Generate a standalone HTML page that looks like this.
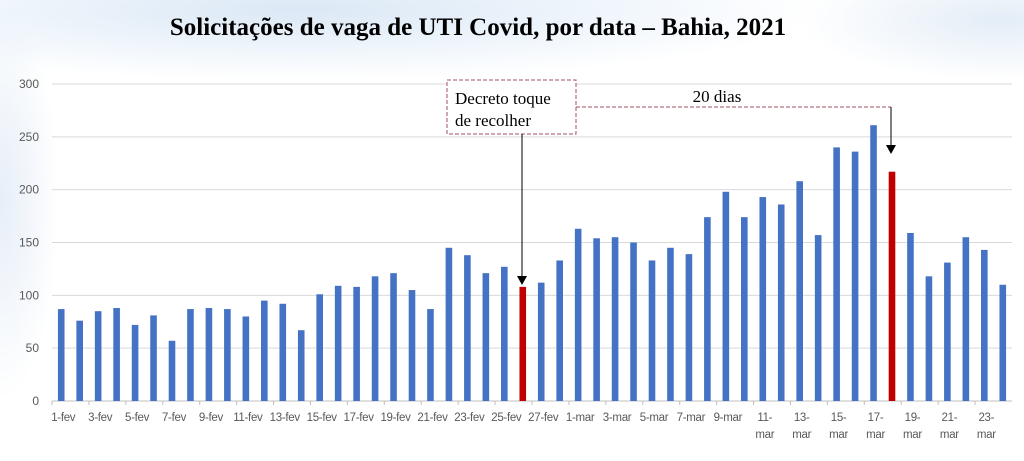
<!DOCTYPE html>
<html><head><meta charset="utf-8"><style>
body{margin:0;width:1024px;height:461px;overflow:hidden;background:#fff;font-family:"Liberation Sans",sans-serif}
#bg{position:absolute;left:0;top:0;width:1024px;height:461px;background:
radial-gradient(ellipse 520px 70px at 300px 10px,#dbe8f5 0%,rgba(230,240,250,0.6) 60%,rgba(255,255,255,0) 100%),
radial-gradient(ellipse 200px 60px at 1000px 20px,#e3edf7 0%,rgba(255,255,255,0) 100%),
radial-gradient(ellipse 60px 200px at 0px 200px,#e6eef8 0%,rgba(255,255,255,0) 100%);}
</style></head><body>
<div id="bg"></div>
<svg id="chart" width="1024" height="461" style="position:absolute;left:0;top:0">
<text x="478" y="35" text-anchor="middle" font-family="Liberation Serif, serif" font-weight="bold" font-size="25" fill="#000">Solicitações de vaga de UTI Covid, por data – Bahia, 2021</text>
<g id="grid"></g><g id="bars"></g><g id="xlabels"></g>
<g>
<rect x="447" y="80" width="129" height="54" fill="#fff" stroke="#a05060" stroke-dasharray="4,2" stroke-width="1"/>
<text x="455" y="104" font-family="Liberation Serif, serif" font-size="17" fill="#000">Decreto toque</text>
<text x="455" y="126" font-family="Liberation Serif, serif" font-size="17" fill="#000">de recolher</text>
<line x1="522" y1="134" x2="522" y2="277" stroke="#000" stroke-width="1"/>
<polygon points="517,276 527,276 522,285" fill="#000"/>
</g>
<g>
<line x1="576" y1="107" x2="891" y2="107" stroke="#a05060" stroke-dasharray="4,2" stroke-width="1"/>
<line x1="891" y1="107" x2="891" y2="146" stroke="#000" stroke-width="1"/>
<polygon points="886,145 896,145 891,154" fill="#000"/>
<text x="717" y="102" text-anchor="middle" font-family="Liberation Serif, serif" font-size="17" fill="#000">20 dias</text>
</g>
</svg>
<script>
const categories=["1-fev","2-fev","3-fev","4-fev","5-fev","6-fev","7-fev","8-fev","9-fev","10-fev","11-fev","12-fev","13-fev","14-fev","15-fev","16-fev","17-fev","18-fev","19-fev","20-fev","21-fev","22-fev","23-fev","24-fev","25-fev","26-fev","27-fev","28-fev","1-mar","2-mar","3-mar","4-mar","5-mar","6-mar","7-mar","8-mar","9-mar","10-mar","11-mar","12-mar","13-mar","14-mar","15-mar","16-mar","17-mar","18-mar","19-mar","20-mar","21-mar","22-mar","23-mar","24-mar"];
const values=[87,76,85,88,72,81,57,87,88,87,80,95,92,67,101,109,108,118,121,105,87,145,138,121,127,108,112,133,163,154,155,150,133,145,139,174,198,174,193,186,208,157,240,236,261,217,159,118,131,155,143,110];
const highlighted=["26-fev","18-mar"];
const yTicks=[0,50,100,150,200,250,300];
const NS="http://www.w3.org/2000/svg";
const x0=52,x1=1012,y0=401,yTop=84,yMax=300;
const step=(x1-x0)/categories.length;
function xs(i){return x0+step*(i+0.5);}
function ys(v){return y0-(v/yMax)*(y0-yTop);}
const grid=document.getElementById('grid');
yTicks.forEach(t=>{
 const l=document.createElementNS(NS,'line');
 
 
 l.setAttribute('x1',x0);l.setAttribute('x2',x1);l.setAttribute('y1',ys(t));l.setAttribute('y2',ys(t));
 l.setAttribute('stroke',t===0?'#bfbfbf':'#d9d9d9');l.setAttribute('stroke-width','1');
 grid.appendChild(l);
 const tx=document.createElementNS(NS,'text');
 
 
 tx.setAttribute('x',39);tx.setAttribute('y',ys(t)+4);tx.setAttribute('text-anchor','end');
 tx.setAttribute('font-size','12');tx.setAttribute('fill','#595959');tx.textContent=t;
 grid.appendChild(tx);
});
const bars=document.getElementById('bars');
const xl=document.getElementById('xlabels');
categories.forEach((c,i)=>{
 const r=document.createElementNS(NS,'rect');
 
 
 const h=y0-ys(values[i]);
 r.setAttribute('x',xs(i)-3.3);r.setAttribute('width',6.6);r.setAttribute('y',ys(values[i]));r.setAttribute('height',h);
 r.setAttribute('fill',highlighted.includes(c)?'#c00000':'#4472c4');
 bars.appendChild(r);
 if(i%2===0){
  const tk=document.createElementNS(NS,'line');
  
  
  tk.setAttribute('x1',x0+step*i);tk.setAttribute('x2',x0+step*i);tk.setAttribute('y1',y0);tk.setAttribute('y2',y0+4);
  tk.setAttribute('stroke','#bfbfbf');
  xl.appendChild(tk);
  const t=document.createElementNS(NS,'text');
  
  
  t.setAttribute('text-anchor','middle');t.setAttribute('font-size','11.5');t.setAttribute('fill','#595959');
  t.setAttribute('letter-spacing','-0.3');
  const cx=xs(i)+2;
  if(i>=38){
   const parts=c.split('-');
   const a=document.createElementNS(NS,'tspan');a.setAttribute('x',cx);a.setAttribute('y',421);a.textContent=parts[0]+'-';
   const b=document.createElementNS(NS,'tspan');b.setAttribute('x',cx);b.setAttribute('y',438);b.textContent=parts[1];
   t.appendChild(a);t.appendChild(b);
  } else {t.setAttribute('x',cx);t.setAttribute('y',421);t.textContent=c;}
  xl.appendChild(t);
 }
});
</script>
</body></html>
